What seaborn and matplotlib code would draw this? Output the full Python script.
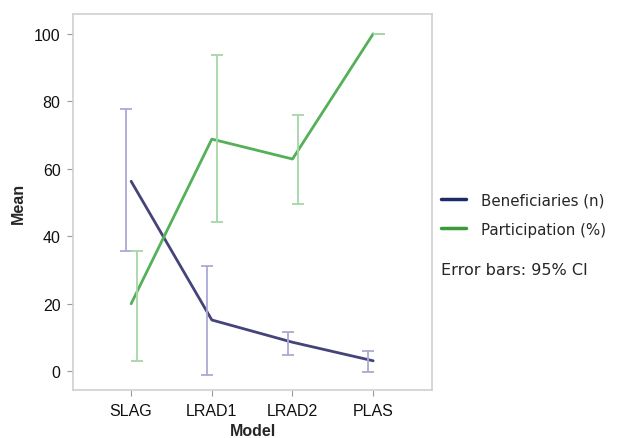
import numpy as np
import pandas as pd
import matplotlib
matplotlib.use('Agg')
import matplotlib.pyplot as plt
import seaborn as sns
from matplotlib.lines import Line2D

models = ['SLAG', 'LRAD1', 'LRAD2', 'PLAS']
benef_mean = [56.3, 15.2, 8.6, 3.1]
benef_lo = [35.5, -1.1, 4.8, -0.2]
benef_hi = [77.6, 31.2, 11.7, 6.0]
part_mean = [20.0, 68.8, 62.9, 100.0]
part_lo = [3.0, 44.2, 49.6, 100.0]
part_hi = [35.6, 93.8, 76.0, 100.0]

sns.set_style('white')
plt.rcParams['font.family'] = ['Liberation Sans', 'DejaVu Sans']

df = pd.DataFrame({
    'Model': models * 2,
    'Mean': benef_mean + part_mean,
    'series': ['Beneficiaries (n)'] * 4 + ['Participation (%)'] * 4,
})
df['x'] = np.tile(np.arange(len(models)), 2)

fig = plt.figure(figsize=(6.19, 4.39), dpi=100)
ax = fig.add_axes([0.118, 0.109, 0.58, 0.857])

line_cols = {'Beneficiaries (n)': '#44447a', 'Participation (%)': '#55b05a'}
sns.lineplot(data=df, x='x', y='Mean', hue='series', palette=line_cols,
             linewidth=2, legend=False, ax=ax)

x = np.arange(len(models))
bm = np.array(benef_mean)
pm = np.array(part_mean)
ax.errorbar(x - 0.06, bm, yerr=[bm - np.array(benef_lo), np.array(benef_hi) - bm],
            fmt='none', ecolor='#a9a9d6', elinewidth=1.3, capsize=4, capthick=1.3)
ax.errorbar(x + 0.07, pm, yerr=[pm - np.array(part_lo), np.array(part_hi) - pm],
            fmt='none', ecolor='#a6d8a6', elinewidth=1.3, capsize=4, capthick=1.3)

ax.set_xlim(-0.72, 3.73)
ax.set_ylim(-5.6, 105.9)
ax.set_xticks(x)
ax.set_xticklabels(models)
ax.set_yticks([0, 20, 40, 60, 80, 100])
ax.tick_params(axis='both', direction='out', length=4, color='#999999',
               labelsize=11.5, labelcolor='#111111', bottom=True, left=True, pad=5)
for s in ax.spines.values():
    s.set_color('#d0d0d0')
    s.set_linewidth(1.2)
ax.set_xlabel('Model', fontsize=11.5, fontweight='bold', labelpad=4)
ax.set_ylabel('Mean', fontsize=11.5, fontweight='bold', labelpad=6)

handles = [Line2D([0], [0], color='#1c2a6a', lw=2.5),
           Line2D([0], [0], color='#3a9a3a', lw=2.5)]
fig.legend(handles, ['Beneficiaries (n)', 'Participation (%)'],
           loc='upper left', bbox_to_anchor=(0.69, 0.59), frameon=False,
           prop={'family': 'DejaVu Sans', 'size': 10.8},
           handlelength=1.7, handletextpad=1.0, labelspacing=0.95)
fig.text(0.712, 0.383, 'Error bars: 95% CI', fontsize=11.5, family=['DejaVu Sans'],
         va='center')

fig.savefig('out.png', dpi=100)
